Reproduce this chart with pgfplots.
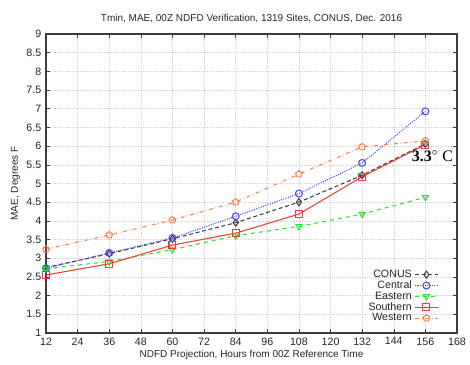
\documentclass[border=0pt]{standalone}
\usepackage{pgfplots}
\pgfplotsset{compat=1.18}
\usepackage{fontspec}
\setmainfont{Liberation Sans}
\newfontfamily\serifnum{Liberation Serif}
\definecolor{cblue}{RGB}{70,70,255}
\definecolor{cgreen}{RGB}{40,230,40}
\definecolor{cred}{RGB}{240,60,60}
\definecolor{corange}{RGB}{250,130,80}
\definecolor{frame}{RGB}{60,60,60}
\begin{document}
\begin{tikzpicture}
\begin{axis}[
  scale only axis,
  width=308pt, height=224pt,
  xmin=12, xmax=168, ymin=1, ymax=9,
  xtick={12,24,...,168},
  ytick={1,1.5,...,9},
  yticklabel style={/pgf/number format/fixed},
  /pgf/number format/assume math mode=true,
  tick label style={font=\fontsize{8}{9}\selectfont, color=black!85},
  tick align=inside,
  tick style={frame, thin},
  major tick length=3pt,
  axis line style={frame, line width=0.9pt},
  grid=major,
  grid style={gray!35, densely dotted},
  title={Tmin, MAE, 00Z NDFD Verification, 1319 Sites, CONUS, Dec. 2016},
  title style={font=\fontsize{7.5}{9}\selectfont, color=black!85, yshift=-1pt},
  xlabel={NDFD Projection, Hours from 00Z Reference Time},
  ylabel={MAE, Degrees F},
  label style={font=\fontsize{7.5}{9}\selectfont, color=black!85},
  xlabel style={yshift=3pt},
  ylabel style={yshift=-2pt},
  legend style={at={(0.965,0.015)}, anchor=south east, draw=none, fill=none,
    font=\fontsize{8}{9}\selectfont, row sep=-3pt, text=black!85},
  legend cell align=right,
  legend plot pos=right,
  mark size=2.6pt,
]
\addplot[black!75, densely dashed, mark=diamond, mark options={solid, thick}, thick]
  coordinates {(12,2.75) (36,3.12) (60,3.52) (84,3.95) (108,4.5) (132,5.22) (156,6.06)};
\addlegendentry{CONUS}
\addplot[cblue, densely dotted, mark=o, mark options={solid}, thick]
  coordinates {(12,2.73) (36,3.14) (60,3.54) (84,4.12) (108,4.73) (132,5.55) (156,6.93)};
\addlegendentry{Central}
\addplot[cgreen, dashed, mark=triangle, mark options={solid, rotate=180}, thick]
  coordinates {(12,2.72) (36,2.91) (60,3.23) (84,3.6) (108,3.85) (132,4.18) (156,4.63)};
\addlegendentry{Eastern}
\addplot[cred, solid, mark=square, thick]
  coordinates {(12,2.55) (36,2.85) (60,3.35) (84,3.67) (108,4.18) (132,5.18) (156,6.04)};
\addlegendentry{Southern}
\addplot[corange, dashdotted, mark=pentagon, mark options={solid}, thick]
  coordinates {(12,3.24) (36,3.62) (60,4.02) (84,4.5) (108,5.25) (132,5.98) (156,6.14)};
\addlegendentry{Western}
\node[anchor=west, inner sep=0pt, font=\fontsize{12}{13}\selectfont\serifnum] at (axis cs:150.8,5.74) {\textbf{3.3}$^\circ$ C};
\end{axis}
\pgfresetboundingbox
\useasboundingbox ([shift={(-34.5pt,-24pt)}]current axis.south west) rectangle ([shift={(9.75pt,25.5pt)}]current axis.north east);
\end{tikzpicture}
\end{document}
